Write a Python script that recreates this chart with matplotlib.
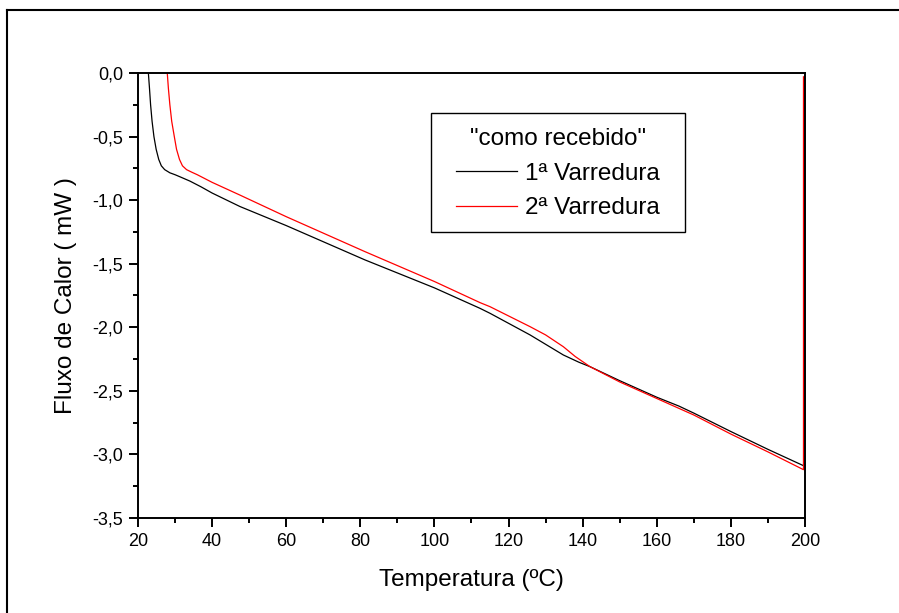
import matplotlib
matplotlib.use("Agg")
import matplotlib.pyplot as plt
from matplotlib.lines import Line2D
from matplotlib.patches import Rectangle
from matplotlib.ticker import MultipleLocator, FuncFormatter

plt.rcParams['font.family'] = ['Liberation Sans', 'DejaVu Sans']

# 1a varredura (preto)
t1 = [22.8, 23.1, 23.4, 23.8, 24.3, 24.9, 25.6, 26.3, 27.2, 28.6, 30.0, 31.3,
      34, 37, 40, 47.5, 60, 81.25, 100, 112.3, 115, 125.8, 134.8, 139, 142,
      150, 160, 166, 170, 180, 190, 199.7, 199.9]
q1 = [0, -0.12, -0.25, -0.38, -0.5, -0.6, -0.68, -0.73, -0.76, -0.785, -0.80,
      -0.816, -0.85, -0.895, -0.944, -1.05, -1.20, -1.47, -1.69, -1.851,
      -1.89, -2.06, -2.218, -2.275, -2.31, -2.42, -2.55, -2.62, -2.675,
      -2.82, -2.96, -3.09, -0.02]

# 2a varredura (vermelho)
t2 = [27.9, 28.2, 28.6, 29.1, 29.8, 30.4, 31.2, 32.0, 33.1, 34.5, 36, 40,
      47.5, 60, 81.25, 100, 112.3, 115, 125.8, 130, 134.8, 138, 142, 150,
      160, 170, 180, 190, 199.6, 199.6]
q2 = [0, -0.12, -0.25, -0.38, -0.5, -0.6, -0.68, -0.73, -0.76, -0.78, -0.80,
      -0.86, -0.96, -1.13, -1.405, -1.64, -1.806, -1.838, -1.995, -2.06,
      -2.153, -2.23, -2.31, -2.43, -2.56, -2.69, -2.84, -2.98, -3.12, -0.03]

fig = plt.figure(figsize=(8.99, 6.13), dpi=100)
ax = fig.add_axes([0.1535, 0.155, 0.7419, 0.7259])

ax.plot(t1, q1, color='black', lw=0.9, label='1ª Varredura')
ax.plot(t2, q2, color='red', lw=0.9, label='2ª Varredura')

ax.set_xlim(20, 200)
ax.set_ylim(-3.5, 0)
ax.xaxis.set_major_locator(MultipleLocator(20))
ax.xaxis.set_minor_locator(MultipleLocator(10))
ax.yaxis.set_major_locator(MultipleLocator(0.5))
ax.yaxis.set_minor_locator(MultipleLocator(0.25))
ax.yaxis.set_major_formatter(FuncFormatter(lambda v, p: f"{v:.1f}".replace('.', ',')))
ax.tick_params(which='major', direction='out', length=6.5, width=1.4, labelsize=13, pad=4)
ax.tick_params(which='minor', direction='out', length=3.5, width=1.4)
for s in ax.spines.values():
    s.set_linewidth(1.4)

ax.set_xlabel('Temperatura (ºC)', fontsize=17.5, labelpad=14)
ax.set_ylabel('Fluxo de Calor ( mW )', fontsize=17.5, labelpad=11)

# caixa da legenda desenhada a parte, conteudo centrado nela
ax.add_patch(Rectangle((0.4393, 0.6427), 0.3808, 0.2674, transform=ax.transAxes,
                       fill=False, edgecolor='black', lw=1.0, zorder=4))
leg = ax.legend(title='"como recebido"', loc='center', bbox_to_anchor=(0.6297, 0.774),
                fontsize=17.5, title_fontsize=17.5, frameon=False,
                handlelength=2.5, handletextpad=0.35, borderpad=0.3,
                labelspacing=0.52, borderaxespad=0)

# moldura externa
fig.add_artist(Line2D([7/899, 7/899], [0, 1 - 10/613], transform=fig.transFigure,
                      color='black', lw=1.5))
fig.add_artist(Line2D([7/899, 1], [1 - 10/613, 1 - 10/613], transform=fig.transFigure,
                      color='black', lw=1.5))

fig.savefig('out.png', dpi=100)
